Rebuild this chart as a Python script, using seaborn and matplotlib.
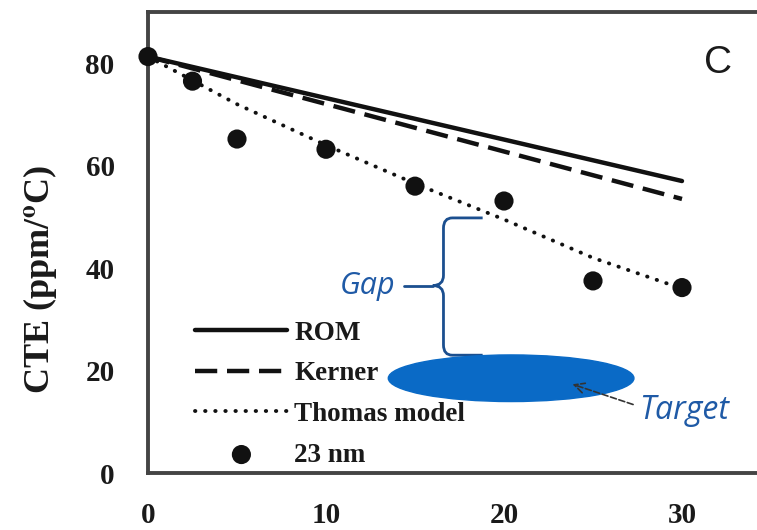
import numpy as np
import pandas as pd
import matplotlib
matplotlib.use('Agg')
import matplotlib.pyplot as plt
import seaborn as sns
from matplotlib.path import Path
from matplotlib.patches import PathPatch, Ellipse

# Data
model_x = [0, 30]
rom_y = [81.3, 57.0]
kerner_y = [81.3, 53.5]
thomas_x = [0, 5, 10, 15, 20, 25, 30]
thomas_y = [81.3, 72.0, 64.0, 56.5, 49.5, 42.0, 36.0]
meas_x = [0, 2.5, 5, 10, 15, 20, 25, 30]
meas_y = [81.3, 76.5, 65.2, 63.2, 56.0, 53.1, 37.5, 36.2]
x_ticks = [0, 10, 20, 30]
y_ticks = [0, 20, 40, 60, 80]

sns.set_theme(style='white')
plt.rcParams['font.family'] = ['Liberation Serif', 'DejaVu Serif']
plt.rcParams['mathtext.fontset'] = 'stix'

fig = plt.figure(figsize=(7.57, 5.30), dpi=100)
ax = fig.add_axes([148 / 757, 57 / 530, 623 / 757, 461 / 530])

sns.lineplot(x=model_x, y=rom_y, ax=ax, color='#111111', lw=3.2, label='ROM')
sns.lineplot(x=model_x, y=kerner_y, ax=ax, color='#111111', lw=3.2,
             dashes=False, label='Kerner')
ax.lines[-1].set_dashes((5, 2.2))
sns.lineplot(x=thomas_x, y=thomas_y, ax=ax, color='#111111', lw=2.8,
             label='Thomas model')
ax.lines[-1].set_dashes((0.1, 2.5))
ax.lines[-1].set_dash_capstyle('round')
sns.scatterplot(x=meas_x, y=meas_y, ax=ax, color='#111111', s=190,
                edgecolor='none', label='23 nm', zorder=5, clip_on=False)

ax.set_xlim(0, 35)
ax.set_ylim(0, 90)
ax.set_xticks(x_ticks)
ax.set_yticks(y_ticks)
ax.tick_params(axis='x', length=4, width=1, color='#cccccc', pad=17,
               labelsize=21)
ax.tick_params(axis='y', length=0, pad=24, labelsize=21)
for lab in ax.get_xticklabels() + ax.get_yticklabels():
    lab.set_fontweight('bold')
    lab.set_color('#1a1a1a')
ax.set_ylabel(r'CTE (ppm/$^{\mathbf{o}}$C)', fontsize=26, fontweight='bold',
              color='#1a1a1a')
ax.yaxis.set_label_coords(-0.143, 0.42)
for s in ['left', 'bottom', 'top', 'right']:
    ax.spines[s].set_color('#444444')
    ax.spines[s].set_linewidth(2.8)

leg = ax.legend(loc='lower left', bbox_to_anchor=(1.9, -1.6),
                bbox_transform=ax.transData, frameon=False, borderpad=0,
                handlelength=3.4, handletextpad=0.25, labelspacing=0.58,
                prop={'family': 'Liberation Serif', 'weight': 'bold', 'size': 19.5})
for t in leg.get_texts():
    t.set_color('#1a1a1a')

# panel letter
ax.text(32.0, 80, 'C', fontsize=28, family='Liberation Sans', color='#1a1a1a',
        ha='center', va='center')

# target ellipse
ax.add_patch(Ellipse((20.4, 18.5), 13.8, 9.1, color='#0a6ac6', zorder=3))

# brace marking the gap
xa, xv, xt = 18.8, 16.6, 16.0
yt, yb, ym = 49.8, 23.0, 36.6
verts = [(xa, yt), (xv + 0.5, yt), (xv, yt), (xv, yt - 2), (xv, ym + 2),
         (xv, ym), (xt, ym), (xv, ym), (xv, ym - 2), (xv, yb + 2),
         (xv, yb), (xv + 0.5, yb), (xa, yb)]
codes = [Path.MOVETO, Path.LINETO, Path.CURVE3, Path.CURVE3, Path.LINETO,
         Path.CURVE3, Path.CURVE3, Path.CURVE3, Path.CURVE3, Path.LINETO,
         Path.CURVE3, Path.CURVE3, Path.LINETO]
ax.add_patch(PathPatch(Path(verts, codes), fill=False, edgecolor='#1b4f8f',
                       lw=2))
ax.plot([14.4, xt], [ym, ym], color='#1b4f8f', lw=2)
ax.text(13.9, 35.0, 'Gap', fontsize=22, family='Open Sans', style='italic',
        color='#1f5aa6', ha='right', va='baseline')

# target label and arrow
ax.annotate('', xy=(23.7, 17.5), xytext=(27.4, 13.2),
            arrowprops=dict(arrowstyle='->', linestyle='--', color='#333333',
                            lw=1.2, mutation_scale=18))
ax.text(27.6, 12.2, 'Target', fontsize=23, family='Open Sans', style='italic',
        color='#1f5aa6', ha='left', va='center')

fig.savefig('out.png', dpi=100)
